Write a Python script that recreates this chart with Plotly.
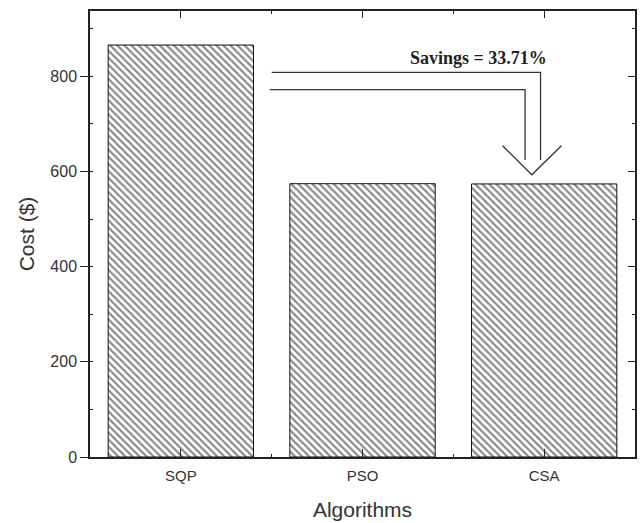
import plotly.graph_objects as go

# Optimised cost per algorithm
algorithms = ["SQP", "PSO", "CSA"]
costs = [865.5, 574.2, 573.7]
savings_text = "Savings = 33.71%"

positions = list(range(len(algorithms)))
x_range = [-0.5, len(algorithms) - 0.5]
y_range = [0, 937]

axis_color = "#222222"
text_color = "#333333"

fig = go.Figure()

fig.add_trace(go.Bar(
    x=positions,
    y=costs,
    width=0.8,
    marker=dict(
        color="white",
        line=dict(color="#111111", width=1),
        pattern=dict(shape="\\", size=5, solidity=0.42,
                     fgcolor="#111111", bgcolor="white"),
    ),
    showlegend=False,
    hoverinfo="skip",
))

# empty trace so the mirrored top/right axes are drawn
fig.add_trace(go.Scatter(x=[None], y=[None], xaxis="x2", yaxis="y2",
                         showlegend=False, hoverinfo="skip"))

# arrow from the SQP level down to the CSA bar
top_y, low_y = 808, 772
stem_end = 624
fig.add_shape(type="path", xref="x", yref="y",
              path=f"M 0.50,{top_y} L 1.98,{top_y} L 1.98,{stem_end}",
              line=dict(color="#333333", width=1.3))
fig.add_shape(type="path", xref="x", yref="y",
              path=f"M 0.49,{low_y} L 1.895,{low_y} L 1.895,{stem_end}",
              line=dict(color="#333333", width=1.3))
fig.add_shape(type="path", xref="x", yref="y",
              path="M 1.771,654 L 1.932,593 L 2.095,654",
              line=dict(color="#333333", width=1.3))

fig.add_annotation(x=1.641, y=838, xref="x", yref="y", text=f"<b>{savings_text}</b>",
                   showarrow=False,
                   font=dict(family="Liberation Serif", size=18, color="#222222"))

common = dict(showgrid=False, zeroline=False, showline=True,
              linecolor=axis_color, linewidth=1.5,
              tickcolor=axis_color, tickwidth=1.3)

fig.update_layout(
    width=640, height=523,
    margin=dict(l=90, r=5, t=11, b=64),
    paper_bgcolor="white", plot_bgcolor="white",
    font=dict(family="Liberation Sans", color=text_color),
    xaxis=dict(
        range=x_range, tickmode="array", tickvals=positions, ticktext=algorithms,
        ticks="inside", ticklen=8,
        minor=dict(tickmode="array", tickvals=[0.5, 1.5], ticks="inside",
                   ticklen=3, tickcolor=axis_color),
        tickfont=dict(size=15, color=text_color),
        ticklabelstandoff=4,
        title=dict(text="Algorithms", font=dict(size=21, color=text_color), standoff=20),
        **common,
    ),
    xaxis2=dict(
        overlaying="x", side="top", range=x_range, tickmode="array", tickvals=positions,
        ticks="inside", ticklen=7, showticklabels=False,
        minor=dict(tickmode="array", tickvals=[0.5, 1.5], ticks="inside",
                   ticklen=3, tickcolor=axis_color),
        **common,
    ),
    yaxis=dict(
        range=y_range, tickmode="linear", tick0=0, dtick=200,
        ticks="outside", ticklen=8,
        minor=dict(dtick=100, ticks="inside", ticklen=3, tickcolor=axis_color),
        tickfont=dict(size=16, color=text_color),
        title=dict(text="Cost ($)", font=dict(size=21, color=text_color), standoff=10),
        **common,
    ),
    yaxis2=dict(
        overlaying="y", side="right", range=y_range, tickmode="linear", tick0=0, dtick=200,
        ticks="inside", ticklen=7, showticklabels=False,
        minor=dict(dtick=100, ticks="inside", ticklen=3, tickcolor=axis_color),
        **common,
    ),
    bargap=0.2,
)

fig.write_html("out.html")
